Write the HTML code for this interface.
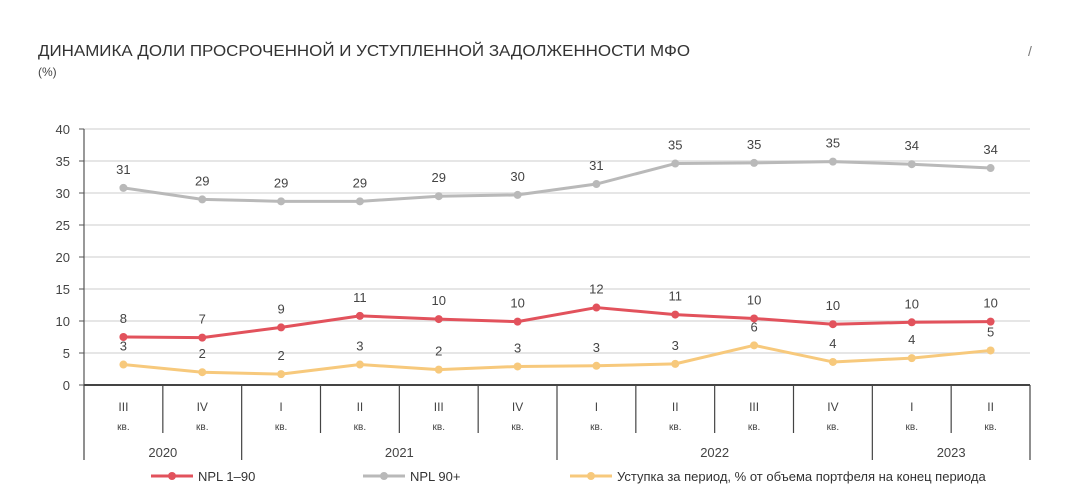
<!DOCTYPE html>
<html><head><meta charset="utf-8"><style>
body{margin:0;background:#fff;width:1076px;height:503px;overflow:hidden;font-family:"Liberation Sans",sans-serif;}
svg{display:block}
text{font-family:"Liberation Sans",sans-serif;}
</style></head><body>
<svg id="chart" width="1076" height="503">
<text x="38" y="56" font-size="16" fill="#333" textLength="652" lengthAdjust="spacingAndGlyphs">ДИНАМИКА ДОЛИ ПРОСРОЧЕННОЙ И УСТУПЛЕННОЙ ЗАДОЛЖЕННОСТИ МФО</text>
<text x="38" y="76" font-size="12" fill="#444">(%)</text>
<text x="1028" y="56" font-size="14" fill="#777">/</text>
<g id="grid"></g><g id="axes"></g><g id="series"></g><g id="legend"></g>
</svg>
<script>
const quarters=["III","IV","I","II","III","IV","I","II","III","IV","I","II"];
const years=["2020","2021","2022","2023"];
const yearSpans=[2,4,4,2];
const npl90=[30.8,29.0,28.7,28.7,29.5,29.7,31.4,34.6,34.7,34.9,34.5,33.9];
const npl90Labels=["31","29","29","29","29","30","31","35","35","35","34","34"];
const npl190=[7.5,7.4,9.0,10.8,10.3,9.9,12.1,11.0,10.4,9.5,9.8,9.9];
const npl190Labels=["8","7","9","11","10","10","12","11","10","10","10","10"];
const ustupka=[3.2,2.0,1.7,3.2,2.4,2.9,3.0,3.3,6.2,3.6,4.2,5.4];
const ustupkaLabels=["3","2","2","3","2","3","3","3","6","4","4","5"];
const yTicks=[0,5,10,15,20,25,30,35,40];
const NS="http://www.w3.org/2000/svg";
const X0=84,X1=1030,Y0=385,Y1=129,YMAX=40;
const cw=(X1-X0)/quarters.length;
const xs=i=>X0+cw*(i+0.5);
const ys=v=>Y0-(v/YMAX)*(Y0-Y1);
function mk(tag,attrs,parent,txt){const e=document.createElementNS(NS,tag);for(const k in attrs)e.setAttribute(k,attrs[k]);if(txt!==undefined)e.textContent=txt;parent.appendChild(e);return e;}
const grid=document.getElementById('grid'),axes=document.getElementById('axes'),ser=document.getElementById('series'),leg=document.getElementById('legend');
yTicks.forEach(t=>{
 if(t>0){const l=mk('line',{x1:X0,x2:X1,y1:ys(t),y2:ys(t),stroke:'#ddd','stroke-width':1.5},grid);
 
 }
 const tk=mk('line',{x1:X0-5,x2:X0,y1:ys(t),y2:ys(t),stroke:'#555'},axes);
 
 
 const tx=mk('text',{x:X0-14,y:ys(t)+5,'font-size':13,fill:'#444','text-anchor':'end'},axes,String(t));
 
 
});
const ya=mk('line',{x1:X0,x2:X0,y1:Y1,y2:Y0,stroke:'#555','stroke-width':1.2},axes);


const xa=mk('line',{x1:X0,x2:X1,y1:Y0,y2:Y0,stroke:'#444','stroke-width':2},axes);


let yb=[0];yearSpans.reduce((a,s)=>{yb.push(a+s);return a+s;},0);
for(let i=0;i<=quarters.length;i++){
 const isYear=yb.includes(i);
 const l=mk('line',{x1:X0+cw*i,x2:X0+cw*i,y1:Y0,y2:isYear?460:433,stroke:'#444','stroke-width':1.2},axes);
 
 
}
quarters.forEach((q,i)=>{
 const t=mk('text',{x:xs(i),y:411,'font-size':12,fill:'#444','text-anchor':'middle'},axes,q);
 
 
 const k=mk('text',{x:xs(i),y:430,'font-size':10,fill:'#444','text-anchor':'middle'},axes,'кв.');
 
 
});
years.forEach((y,j)=>{
 const c=X0+cw*(yb[j]+yb[j+1])/2;
 const t=mk('text',{x:c,y:457,'font-size':13,fill:'#444','text-anchor':'middle'},axes,y);
 
 
});
function series(vals,labels,color,name){
 const g=mk('g',{},ser);
 
 
 const p=mk('polyline',{points:vals.map((v,i)=>xs(i)+','+ys(v)).join(' '),fill:'none',stroke:color,'stroke-width':3,'stroke-linejoin':'round'},g);
 
 
 vals.forEach((v,i)=>{
  const c=mk('circle',{cx:xs(i),cy:ys(v),r:4,fill:color},g);
  
  
  const t=mk('text',{x:xs(i),y:ys(v)-14,'font-size':13,fill:'#444','text-anchor':'middle'},g,labels[i]);
  
  
 });
}
series(npl90,npl90Labels,'#b9b9b9','npl-90');
series(ustupka,ustupkaLabels,'#f7c97c','ustupka');
series(npl190,npl190Labels,'#e2525c','npl-1-90');
function legendEntry(x,color,label,name){
 const g=mk('g',{},leg);
 
 
 mk('line',{x1:x,x2:x+42,y1:476,y2:476,stroke:color,'stroke-width':3},g);
 mk('circle',{cx:x+21,cy:476,r:4,fill:color},g);
 mk('text',{x:x+47,y:481,'font-size':13,fill:'#333'},g,label);
}
legendEntry(151,'#e2525c','NPL 1–90','npl-1-90');
legendEntry(363,'#b9b9b9','NPL 90+','npl-90');
legendEntry(570,'#f7c97c','Уступка за период, % от объема портфеля на конец периода','ustupka');
</script>
</body></html>
